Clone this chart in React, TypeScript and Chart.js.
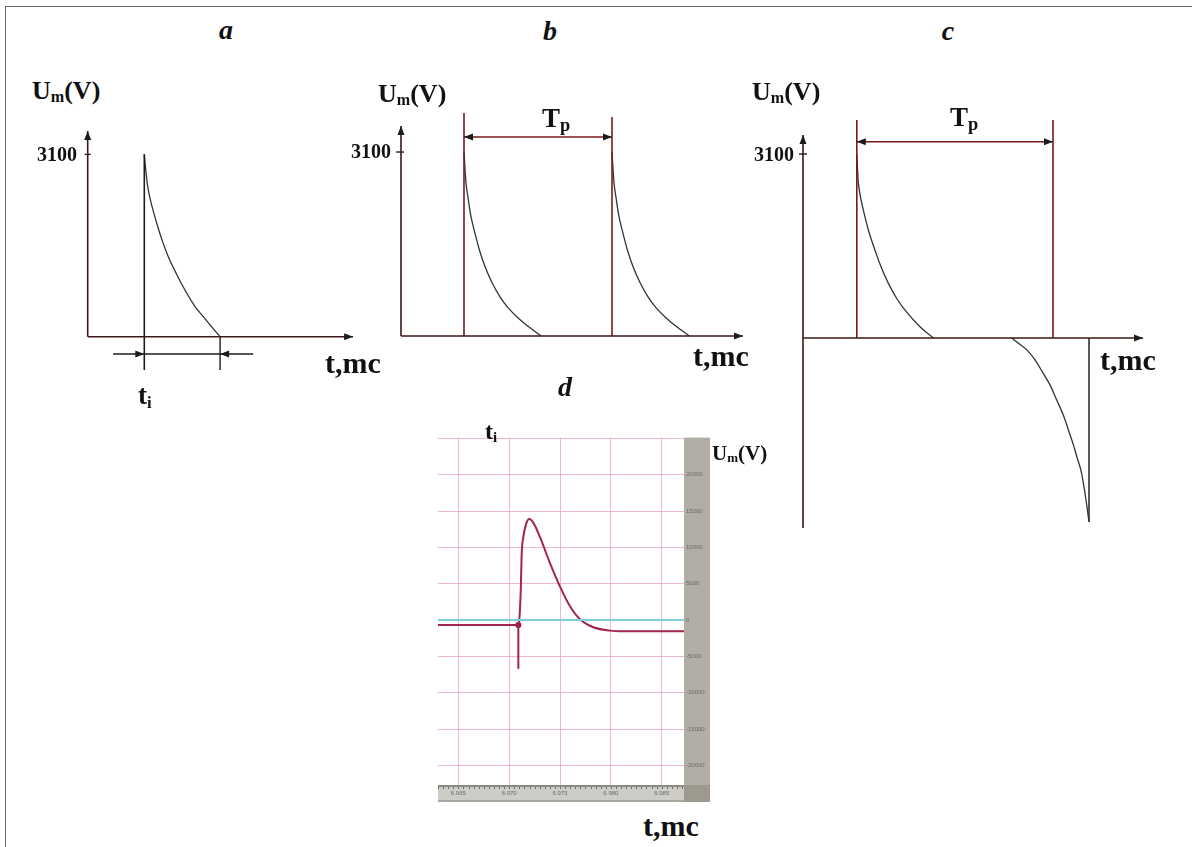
import React, { useEffect, useRef } from "react";
import { Chart, registerables } from "chart.js";

Chart.register(...registerables);

// ---------------- data ----------------
// panel a: single discharge pulse (t in arbitrary mc units, U in V)
const aTime = [2.83, 2.92, 3.03, 3.22, 3.45, 3.72, 4.03, 4.42, 4.87, 5.37, 5.78, 6.12, 6.62];
const aVolt = [3100, 2780, 2490, 2210, 1930, 1640, 1360, 1080, 790, 510, 340, 200, 0];
const aPulse = [2.83, 6.62]; // start / end of t_i

// panel b: two pulses separated by T_p
const b1Time = [3.15, 3.25, 3.37, 3.5, 3.7, 3.92, 4.2, 4.53, 4.95, 5.37, 5.87, 6.37, 7.0];
const b1Volt = [3100, 2580, 2290, 2010, 1730, 1450, 1170, 915, 660, 470, 300, 160, 0];
const b2Time = [10.55, 10.65, 10.77, 10.9, 11.1, 11.32, 11.6, 11.93, 12.35, 12.77, 13.27, 13.77, 14.42];
const b2Volt = [3100, 2580, 2290, 2010, 1730, 1450, 1170, 915, 660, 470, 300, 160, 0];
const bPulses = [3.15, 10.55];

// panel c: positive pulse followed by a negative one
const cTime = [2.69, 2.72, 2.77, 2.9, 3.1, 3.32, 3.6, 3.9, 4.27, 4.68, 5.1, 5.85, 6.52];
const cVolt = [3100, 2890, 2610, 2330, 2040, 1760, 1480, 1200, 920, 670, 470, 190, 0];
const cNegTime = [10.44, 10.77, 11.19, 11.6, 12.02, 12.35, 12.69, 13.02, 13.27, 13.52, 13.69, 13.89, 14.02, 14.15, 14.3];
const cNegVolt = [0, -90, -200, -370, -600, -790, -1050, -1300, -1550, -1800, -2000, -2220, -2450, -2730, -3100];
const cPulses = [2.69, 12.5];

const peakTick = 3100;
const peakTickLabel = "3100";

// panel d: oscilloscope record
const dBaseTime = [6.963, 6.9709, 6.9709, 6.9709];
const dBaseVolt = [-700, -700, -6700, -700];
const dPulseTime = [6.9709, 6.971, 6.97114, 6.97123, 6.97139, 6.97166, 6.97198, 6.97237, 6.97303, 6.97402, 6.975, 6.97598, 6.97697, 6.97828, 6.97992, 6.9809, 6.98719];
const dPulseVolt = [-700, 100, 4200, 9100, 11400, 13200, 13900, 13400, 11400, 7800, 4600, 1900, 100, -1000, -1460, -1560, -1560];
const dZeroTime = [6.963, 6.98719];
const dZeroVolt = [0, 0];
const dTriggerTime = [6.9709];
const dTriggerVolt = [-700];
const dTimeTicks = [6.965, 6.97, 6.975, 6.98, 6.985];
const dVoltTicks = [-20000, -15000, -10000, -5000, 0, 5000, 10000, 15000, 20000, 25000];
const dMinorStep = 0.0005;

// ---------------- helpers ----------------
const SERIF = "'Liberation Serif', 'Times New Roman', serif";
const AXIS = "#3d1717";
const RED = "#7a1818";
const CURVE = "#2e3535";
const DARK = "#1c1c1c";

type Head = { x: number; y: number; dir: "up" | "down" | "left" | "right"; color: string };

function headsPlugin(heads: Head[]) {
  return {
    id: "heads",
    afterDatasetsDraw(chart: any) {
      const { ctx, scales } = chart;
      const L = 9;
      const W = 3.5;
      heads.forEach((h) => {
        const px = scales.x.getPixelForValue(h.x);
        const py = scales.y.getPixelForValue(h.y);
        ctx.save();
        ctx.fillStyle = h.color;
        ctx.beginPath();
        ctx.moveTo(px, py);
        if (h.dir === "right") {
          ctx.lineTo(px - L, py - W);
          ctx.lineTo(px - L, py + W);
        } else if (h.dir === "left") {
          ctx.lineTo(px + L, py - W);
          ctx.lineTo(px + L, py + W);
        } else if (h.dir === "up") {
          ctx.lineTo(px - W, py + L);
          ctx.lineTo(px + W, py + L);
        } else {
          ctx.lineTo(px - W, py - L);
          ctx.lineTo(px + W, py - L);
        }
        ctx.closePath();
        ctx.fill();
        ctx.restore();
      });
    },
  };
}

function seg(xs: number[], ys: number[], color: string, width: number, smooth = false) {
  return {
    data: xs.map((x, i) => ({ x, y: ys[i] })),
    borderColor: color,
    backgroundColor: color,
    borderWidth: width,
    pointRadius: 0,
    fill: false,
    tension: smooth ? 0.4 : 0,
    capBezierPoints: true,
    clip: false,
  };
}

function hRange(originPx: number, pxPerUnit: number, startPx: number, sizePx: number) {
  const min = (startPx - originPx) / pxPerUnit;
  return { min, max: min + sizePx / pxPerUnit };
}
function vRange(originPx: number, unitsPerPx: number, topPx: number, sizePx: number) {
  return { max: (originPx - topPx) * unitsPerPx, min: (originPx - topPx - sizePx) * unitsPerPx };
}

function schematic(xr: any, yr: any, datasets: any[], heads: Head[]) {
  return {
    type: "line",
    data: { datasets },
    options: {
      animation: false,
      responsive: false,
      events: [],
      layout: { padding: 0, autoPadding: false },
      plugins: { legend: { display: false }, tooltip: { enabled: false }, title: { display: false } },
      scales: {
        x: { type: "linear", display: false, min: xr.min, max: xr.max },
        y: { type: "linear", display: false, min: yr.min, max: yr.max },
      },
    },
    plugins: [headsPlugin(heads)],
  };
}

// ---------------- panel configs ----------------
const boxA = { left: 20, top: 110, width: 380, height: 320 };
const boxB = { left: 360, top: 100, width: 400, height: 260 };
const boxC = { left: 760, top: 100, width: 400, height: 440 };
const boxD = { left: 438, top: 432, width: 272, height: 370 };

function makeA() {
  return schematic(
    hRange(87.7, 20, boxA.left, boxA.width),
    vRange(336.7, 17, boxA.top, boxA.height),
    [
      seg([0, 0], [0, 3497], AXIS, 1.6),
      seg([0, 13.27], [0, 0], AXIS, 1.6),
      seg([-0.15, 0.15], [peakTick, peakTick], AXIS, 1.4),
      seg([aPulse[0], aPulse[0]], [peakTick, -566], DARK, 1.6),
      seg([aPulse[1], aPulse[1]], [0, -566], DARK, 1.4),
      seg([1.27, 8.27], [-294, -294], DARK, 1.4),
      seg(aTime, aVolt, CURVE, 1.3, true),
    ],
    [
      { x: 0, y: 3497, dir: "up", color: DARK },
      { x: 13.27, y: 0, dir: "right", color: DARK },
      { x: aPulse[0], y: -294, dir: "right", color: DARK },
      { x: aPulse[1], y: -294, dir: "left", color: DARK },
    ]
  );
}

function makeB() {
  return schematic(
    hRange(401, 20, boxB.left, boxB.width),
    vRange(336, 16.85, boxB.top, boxB.height),
    [
      seg([0, 0], [0, 3538], AXIS, 1.6),
      seg([0, 17.1], [0, 0], AXIS, 1.6),
      seg([-0.25, 0.15], [peakTick, peakTick], AXIS, 1.4),
      seg([bPulses[0], bPulses[0]], [0, 3758], RED, 1.6),
      seg([bPulses[1], bPulses[1]], [0, 3690], RED, 1.6),
      seg([bPulses[0], bPulses[1]], [3353, 3353], RED, 1.5),
      seg(b1Time, b1Volt, CURVE, 1.3, true),
      seg(b2Time, b2Volt, CURVE, 1.3, true),
    ],
    [
      { x: 0, y: 3538, dir: "up", color: DARK },
      { x: 17.1, y: 0, dir: "right", color: DARK },
      { x: bPulses[0], y: 3353, dir: "left", color: DARK },
      { x: bPulses[1], y: 3353, dir: "right", color: DARK },
    ]
  );
}

function makeC() {
  const endT = cNegTime[cNegTime.length - 1];
  const endU = cNegVolt[cNegVolt.length - 1];
  return schematic(
    hRange(803, 20, boxC.left, boxC.width),
    vRange(338, 16.85, boxC.top, boxC.height),
    [
      seg([0, 0], [-3202, 3421], AXIS, 1.6),
      seg([0, 17], [0, 0], AXIS, 1.6),
      seg([-0.2, 0.2], [peakTick, peakTick], AXIS, 1.4),
      seg([cPulses[0], cPulses[0]], [0, 3673], RED, 1.6),
      seg([cPulses[1], cPulses[1]], [0, 3673], RED, 1.6),
      seg([cPulses[0], cPulses[1]], [3308, 3308], RED, 1.5),
      seg(cTime, cVolt, CURVE, 1.3, true),
      seg(cNegTime, cNegVolt, CURVE, 1.3, true),
      seg([endT, endT], [0, endU], "#2a2222", 1.5),
    ],
    [
      { x: 0, y: 3421, dir: "up", color: DARK },
      { x: 17, y: 0, dir: "right", color: DARK },
      { x: cPulses[0], y: 3308, dir: "left", color: DARK },
      { x: cPulses[1], y: 3308, dir: "right", color: DARK },
    ]
  );
}

const PINK = "rgba(236,168,206,0.85)";

const scopeFrame = {
  id: "scopeFrame",
  beforeDraw(chart: any) {
    const { ctx, chartArea, width, height, scales } = chart;
    ctx.save();
    // right gray bar
    ctx.fillStyle = "#b2aea6";
    ctx.fillRect(chartArea.right, chartArea.top, width - chartArea.right, chartArea.bottom - chartArea.top);
    // bottom bar
    ctx.fillStyle = "#cdccc6";
    ctx.fillRect(0, chartArea.bottom, chartArea.right, height - chartArea.bottom);
    ctx.fillStyle = "#8c8a84";
    ctx.fillRect(0, chartArea.bottom, chartArea.right, 2);
    ctx.fillStyle = "#a9a79f";
    ctx.fillRect(0, height - 2, chartArea.right, 2);
    // corner
    ctx.fillStyle = "#9d998f";
    ctx.fillRect(chartArea.right, chartArea.bottom, width - chartArea.right, height - chartArea.bottom);
    // minor ticks on the time bar
    const xs = scales.x;
    ctx.fillStyle = "#6e6c66";
    const first = Math.ceil(xs.min / dMinorStep);
    const last = Math.floor(xs.max / dMinorStep);
    for (let k = first; k <= last; k++) {
      const px = xs.getPixelForValue(k * dMinorStep);
      ctx.fillRect(Math.round(px), chartArea.bottom + 2, 1, 2);
    }
    ctx.restore();
  },
};

function makeD() {
  const pts = (xs: number[], ys: number[]) => xs.map((x, i) => ({ x, y: ys[i] }));
  return {
    type: "line",
    data: {
      datasets: [
        { data: pts(dZeroTime, dZeroVolt), borderColor: "#7fcfe0", borderWidth: 2, pointRadius: 0, tension: 0 },
        { data: pts(dBaseTime, dBaseVolt), borderColor: "#a3244f", borderWidth: 2, pointRadius: 0, tension: 0 },
        { data: pts(dPulseTime, dPulseVolt), borderColor: "#a3244f", borderWidth: 2, pointRadius: 0, cubicInterpolationMode: "monotone" },
        { data: pts(dTriggerTime, dTriggerVolt), showLine: false, pointRadius: 3, pointBackgroundColor: "#a0103a", pointBorderWidth: 0 },
      ],
    },
    options: {
      animation: false,
      responsive: false,
      events: [],
      layout: { padding: 0, autoPadding: false },
      plugins: { legend: { display: false }, tooltip: { enabled: false } },
      scales: {
        x: {
          type: "linear",
          position: "bottom",
          min: 6.963,
          max: 6.98719,
          afterBuildTicks: (s: any) => {
            s.ticks = dTimeTicks.map((v) => ({ value: v }));
          },
          afterFit: (s: any) => {
            s.height = 17;
          },
          ticks: {
            autoSkip: false,
            maxRotation: 0,
            padding: 5,
            color: "#6a6a66",
            font: { size: 6, family: "'Liberation Sans', sans-serif" },
            callback: (v: any) => Number(v).toFixed(3),
          },
          grid: { color: PINK, lineWidth: 1, drawTicks: false },
          border: { display: false },
        },
        y: {
          type: "linear",
          position: "right",
          min: -22700,
          max: 25100,
          afterBuildTicks: (s: any) => {
            s.ticks = dVoltTicks.map((v) => ({ value: v }));
          },
          afterFit: (s: any) => {
            s.width = 26;
          },
          ticks: {
            autoSkip: false,
            padding: 2,
            color: "#6a6a66",
            font: { size: 6, family: "'Liberation Sans', sans-serif" },
            callback: (v: any) => (Number(v) > 20000 ? "" : String(v)),
          },
          grid: { color: PINK, lineWidth: 1, drawTicks: false },
          border: { display: false },
        },
      },
    },
    plugins: [scopeFrame],
  };
}

// ---------------- components ----------------
function ChartBox({ box, make }: { box: any; make: () => any }) {
  const ref = useRef<HTMLCanvasElement>(null);
  useEffect(() => {
    const chart = new Chart(ref.current as HTMLCanvasElement, make() as any);
    return () => chart.destroy();
  }, []);
  return (
    <canvas
      ref={ref}
      width={box.width}
      height={box.height}
      style={{ position: "absolute", left: box.left, top: box.top, width: box.width, height: box.height }}
    />
  );
}

function Label({ x, y, size, anchor = "left", italic = false, children }: any) {
  const tf = anchor === "center" ? "translateX(-50%)" : anchor === "right" ? "translateX(-100%)" : undefined;
  return (
    <div
      style={{
        position: "absolute",
        left: x,
        top: y - 0.8375 * size,
        fontFamily: SERIF,
        fontWeight: 700,
        fontStyle: italic ? "italic" : "normal",
        fontSize: size,
        lineHeight: `${size}px`,
        whiteSpace: "nowrap",
        color: "#111",
        transform: tf,
      }}
    >
      {children}
    </div>
  );
}

function Sub({ children, scale = 0.65, drop = 0.12 }: any) {
  return <span style={{ fontSize: `${scale}em`, position: "relative", top: `${drop / scale}em` }}>{children}</span>;
}

function UmLabel({ x, y, size }: any) {
  return (
    <Label x={x} y={y} size={size}>
      U<Sub scale={0.62} drop={0.09}>m</Sub>(V)
    </Label>
  );
}

export default function App() {
  return (
    <div style={{ position: "absolute", left: 0, top: 0, width: 1192, height: 847, background: "#fff", overflow: "hidden" }}>
      <div style={{ position: "absolute", left: 5, top: 6, width: 1200, height: 1, background: "#6a6a6a" }} />
      <div style={{ position: "absolute", left: 5, top: 6, width: 1, height: 900, background: "#6a6a6a" }} />

      <ChartBox box={boxA} make={makeA} />
      <ChartBox box={boxB} make={makeB} />
      <ChartBox box={boxC} make={makeC} />
      <ChartBox box={boxD} make={makeD} />

      {/* panel a */}
      <Label x={226} y={39} size={28} anchor="center" italic>a</Label>
      <UmLabel x={32} y={100} size={26} />
      <Label x={77} y={161} size={20} anchor="right">{peakTickLabel}</Label>
      <Label x={325} y={373} size={30}>t,mc</Label>
      <Label x={138} y={405} size={27}>t<Sub scale={0.62} drop={0.15}>i</Sub></Label>

      {/* panel b */}
      <Label x={550} y={40} size={28} anchor="center" italic>b</Label>
      <UmLabel x={378} y={103} size={26} />
      <Label x={391} y={158} size={20} anchor="right">{peakTickLabel}</Label>
      <Label x={542} y={128} size={27}>T<Sub scale={0.68} drop={0.15}>p</Sub></Label>
      <Label x={693} y={366} size={30}>t,mc</Label>

      {/* panel c */}
      <Label x={948} y={40} size={28} anchor="center" italic>c</Label>
      <UmLabel x={752} y={101} size={26} />
      <Label x={794} y={161} size={20} anchor="right">{peakTickLabel}</Label>
      <Label x={950} y={127} size={27}>T<Sub scale={0.68} drop={0.15}>p</Sub></Label>
      <Label x={1100} y={370} size={30}>t,mc</Label>

      {/* panel d */}
      <Label x={565} y={396} size={28} anchor="center" italic>d</Label>
      <Label x={485} y={439} size={24}>t<Sub scale={0.62} drop={0.15}>i</Sub></Label>
      <UmLabel x={712} y={461} size={21} />
      <Label x={643} y={836} size={30}>t,mc</Label>
    </div>
  );
}
